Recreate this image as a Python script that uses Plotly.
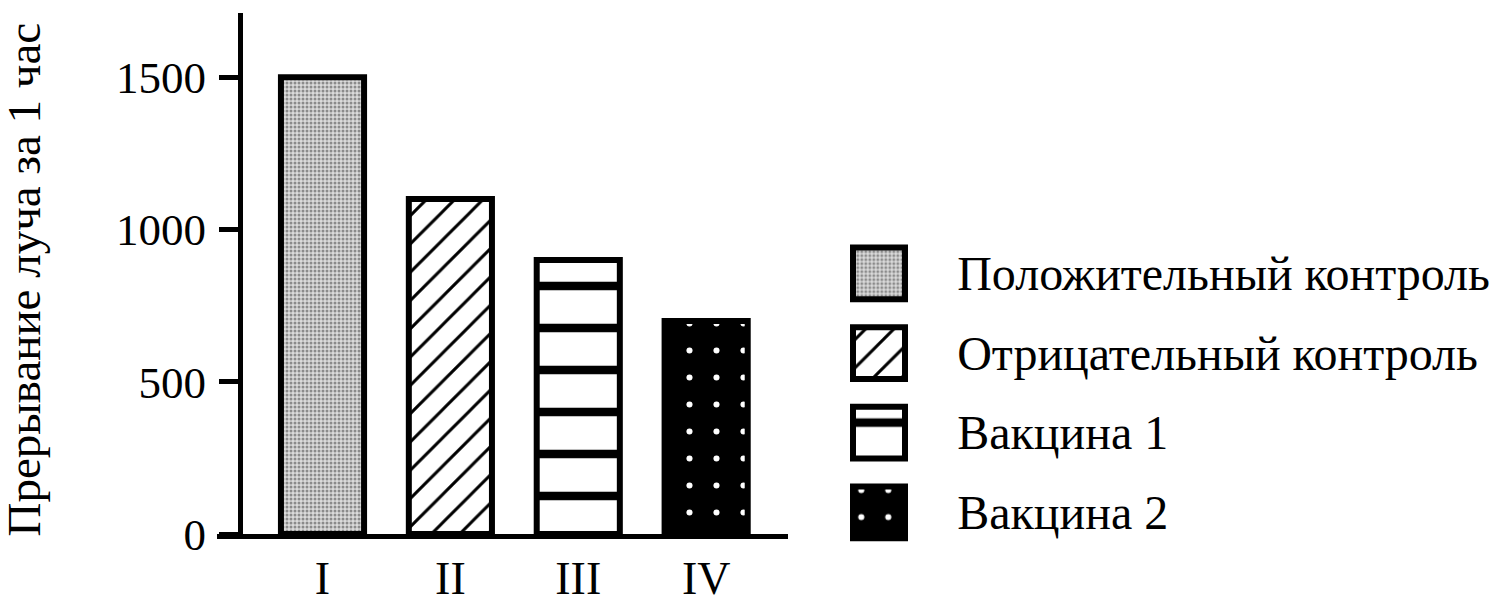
import plotly.graph_objects as go

# Bar data
groups = ["I", "II", "III", "IV"]
beam_breaks = [1500, 1100, 900, 700]

# Legend entries (one per group, top to bottom)
legend_labels = [
    "Положительный контроль",
    "Отрицательный контроль",
    "Вакцина 1",
    "Вакцина 2",
]
swatch_len = [1, 1, 1, 1]

y_ticks = [0, 500, 1000, 1500]
y_title = "Прерывание луча за 1 час"

# Fill styles for each group
pattern_shapes = [".", "/", "-", "."]
pattern_fg = ["#8a8a8a", "black", "black", "white"]
pattern_bg = ["#dcdcdc", "white", "white", "black"]
pattern_size = [4, 20, 42, 27]
pattern_solid = [0.45, 0.15, 0.2, 0.04]

# the viewer squeezes the page a little vertically, so lay it out taller
W, H = 1500, 634
SY = H / 609  # reference pixel -> layout pixel (vertical)
FONT = "Liberation Serif"
Y_RANGE = [0, 1711]
AXIS_X = 240 / W


def py(px):
    # paper fraction for a vertical position measured on the reference
    return 1 - px * SY / H


def pattern():
    return dict(
        shape=pattern_shapes,
        fgcolor=pattern_fg,
        bgcolor=pattern_bg,
        size=pattern_size,
        solidity=pattern_solid,
        fillmode="replace",
    )


fig = go.Figure()

# Main bars
fig.add_trace(
    go.Bar(
        x=groups,
        y=beam_breaks,
        width=0.65,
        marker=dict(color="white", line=dict(color="black", width=6), pattern=pattern()),
        xaxis="x",
        yaxis="y",
        showlegend=False,
        hoverinfo="skip",
    )
)

# Legend swatches drawn as short horizontal bars
fig.add_trace(
    go.Bar(
        x=swatch_len,
        y=legend_labels,
        orientation="h",
        width=0.65,
        marker=dict(color="white", line=dict(color="black", width=6), pattern=pattern()),
        xaxis="x2",
        yaxis="y3",
        showlegend=False,
        hoverinfo="skip",
    )
)

fig.update_layout(
    width=W,
    height=H,
    margin=dict(l=0, r=0, t=0, b=0),
    paper_bgcolor="white",
    plot_bgcolor="rgba(0,0,0,0)",
    font=dict(family=FONT, size=44, color="black"),
    showlegend=False,
    xaxis=dict(
        domain=[217 / W, 788 / W],
        range=[-0.825, 3.64],
        anchor="y",
        showline=True,
        linewidth=5,
        linecolor="black",
        ticks="",
        showgrid=False,
        zeroline=False,
        ticklabelstandoff=0,
        tickfont=dict(family=FONT, size=46),
    ),
    yaxis=dict(
        domain=[py(535), py(13)],
        range=Y_RANGE,
        anchor="free",
        position=AXIS_X,
        tickvals=y_ticks,
        ticks="outside",
        ticklen=19,
        tickwidth=5,
        tickcolor="black",
        showline=True,
        linewidth=5,
        linecolor="black",
        showgrid=False,
        zeroline=False,
        ticklabelstandoff=4,
        tickfont=dict(family=FONT, size=45),
    ),
    # second copy of the y axis so the tick marks cross the axis line
    yaxis2=dict(
        overlaying="y",
        range=Y_RANGE,
        anchor="free",
        position=AXIS_X,
        tickvals=y_ticks,
        ticks="inside",
        ticklen=19,
        tickwidth=5,
        tickcolor="black",
        showticklabels=False,
        showline=False,
        showgrid=False,
        zeroline=False,
    ),
    xaxis2=dict(
        domain=[847.8 / W, 910.2 / W],
        range=[-0.1, 1.1],
        anchor="y3",
        visible=False,
    ),
    yaxis3=dict(
        domain=[py(553), py(234)],
        range=[3.5, -0.5],
        type="category",
        anchor="x2",
        side="right",
        ticks="",
        showline=False,
        showgrid=False,
        zeroline=False,
        ticklabelstandoff=46,
        tickfont=dict(family=FONT, size=48),
    ),
    annotations=[
        dict(
            text=y_title,
            xref="paper",
            yref="paper",
            x=24 / W,
            y=py(280),
            xanchor="center",
            yanchor="middle",
            textangle=-90,
            showarrow=False,
            font=dict(family=FONT, size=47),
        )
    ],
)

# drop the default page margin so the figure sits at the window origin
fig.write_html(
    "out.html",
    config={"displayModeBar": False},
    post_script="document.body.style.margin='0';document.body.style.overflow='hidden';",
)
